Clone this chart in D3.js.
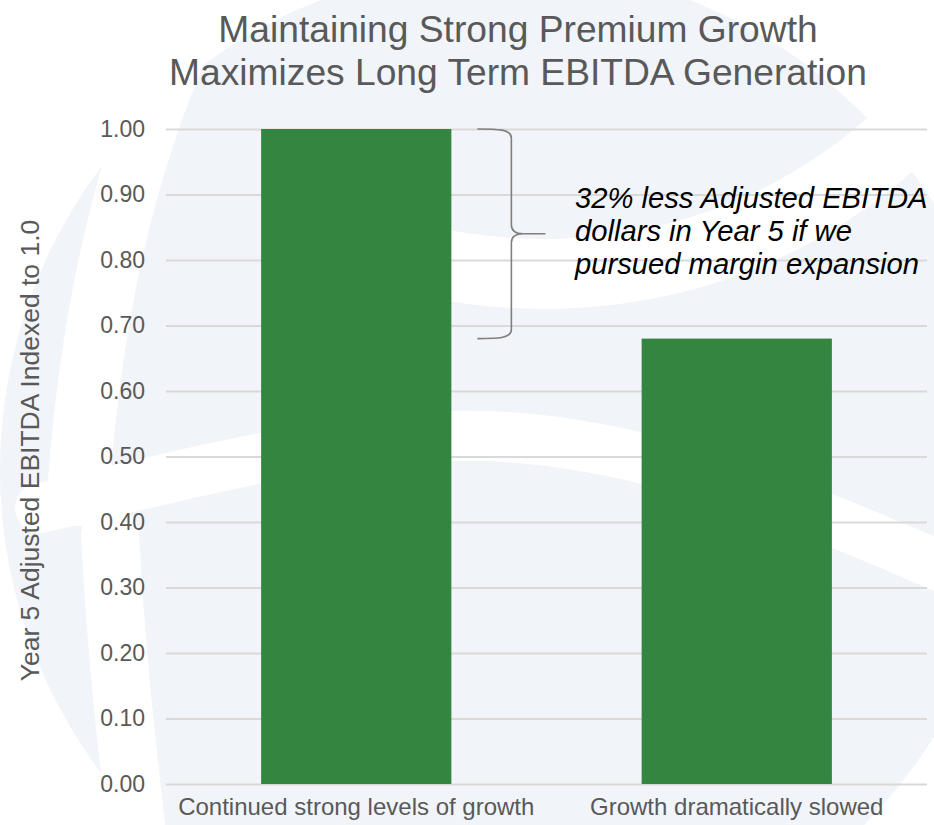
<!DOCTYPE html>
<html>
<head>
<meta charset="utf-8">
<script src="https://cdn.jsdelivr.net/npm/d3@7"></script>
<style>
  html, body { margin: 0; padding: 0; background: #ffffff; }
  svg { display: block; font-family: Arial, "Liberation Sans", Helvetica, sans-serif; }
</style>
</head>
<body>
<svg id="chart" width="934" height="825"></svg>
<script>
// ---- data ----
const categories = ["Continued strong levels of growth", "Growth dramatically slowed"];
const values = [1.00, 0.68];
const yTicks = [0, 0.1, 0.2, 0.3, 0.4, 0.5, 0.6, 0.7, 0.8, 0.9, 1.0];
const titleLines = ["Maintaining Strong Premium Growth", "Maximizes Long Term EBITDA Generation"];
const yAxisTitle = "Year 5 Adjusted EBITDA Indexed to 1.0";
const annotationLines = ["32% less Adjusted EBITDA", "dollars in Year 5 if we", "pursued margin expansion"];

// ---- layout ----
const W = 934, H = 825;
const plot = { left: 166, right: 927, top: 129, bottom: 784 };
const textGrey = "#595959";
const barGreen = "#348540";
const fontStack = "Arial, 'Liberation Sans', Helvetica, sans-serif";

const svg = d3.select("#chart");

// faint logo watermark behind the chart
const wm = svg.append("g").attr("class", "watermark");
wm.append("rect").attr("width", W).attr("height", H).attr("fill", "#ffffff");
wm.append("circle").attr("cx", 505).attr("cy", 470).attr("r", 505).attr("fill", "#f1f4f9");
const swoosh = (d, w) => wm.append("path").attr("d", d).attr("fill", "none")
  .attr("stroke", "#ffffff").attr("stroke-width", w).attr("stroke-linecap", "round");
swoosh("M 215 -30 C 150 90 95 250 78 495", 62);
swoosh("M 40 508 C 200 472 360 425 520 438 C 660 450 790 500 960 575", 50);
swoosh("M 110 535 C 116 650 126 740 140 860", 58);
swoosh("M 430 262 C 610 300 820 250 960 70", 70);

// ---- scales ----
const x = d3.scaleBand().domain(categories).range([plot.left, plot.right])
  .paddingInner(0.5).paddingOuter(0.25);
const y = d3.scaleLinear().domain([0, 1]).range([plot.bottom, plot.top]);

// ---- gridlines + y tick labels ----
const yAxis = d3.axisLeft(y)
  .tickValues(yTicks)
  .tickFormat(d3.format(".2f"))
  .tickSize(-(plot.right - plot.left))
  .tickPadding(21);

const gy = svg.append("g")
  .attr("transform", `translate(${plot.left},0)`)
  .attr("font-family", fontStack)
  .call(yAxis);
gy.attr("font-family", fontStack).attr("font-size", 23);
gy.select(".domain").remove();
gy.selectAll(".tick line").attr("stroke", "#d9d9d9").attr("stroke-width", 2);
gy.selectAll(".tick text").attr("fill", textGrey);

// ---- bars ----
svg.append("g").selectAll("rect")
  .data(categories)
  .join("rect")
  .attr("x", d => x(d))
  .attr("width", x.bandwidth())
  .attr("y", (d, i) => y(values[i]))
  .attr("height", (d, i) => y(0) - y(values[i]))
  .attr("fill", barGreen);

// ---- category labels ----
svg.append("g").selectAll("text")
  .data(categories)
  .join("text")
  .attr("x", d => x(d) + x.bandwidth() / 2)
  .attr("y", 815)
  .attr("text-anchor", "middle")
  .attr("fill", textGrey)
  .attr("font-size", "24px")
  .text(d => d);

// ---- y axis title ----
svg.append("text")
  .attr("transform", `translate(39,${(plot.top + plot.bottom) / 2 - 6}) rotate(-90)`)
  .attr("text-anchor", "middle")
  .attr("fill", textGrey)
  .attr("font-size", "26.5px")
  .text(yAxisTitle);

// ---- title ----
svg.append("g").selectAll("text")
  .data(titleLines)
  .join("text")
  .attr("x", 518)
  .attr("y", (d, i) => 42 + i * 43.3)
  .attr("text-anchor", "middle")
  .attr("fill", textGrey)
  .attr("font-size", "37.2px")
  .text(d => d);

// ---- brace spanning the gap between the two bars ----
const topY = y(values[0]);
const botY = y(values[1]);
const midY = (topY + botY) / 2;
const bx0 = x(categories[0]) + x.bandwidth() + 26; // arm start
const bx1 = bx0 + 34;                               // vertical spine
const bTip = bx1 + 34;                              // point
const r = 9;
const brace = d3.path();
brace.moveTo(bx0, topY);
brace.bezierCurveTo(bx0 + 20, topY, bx1, topY, bx1, topY + r);
brace.lineTo(bx1, midY - r);
brace.bezierCurveTo(bx1, midY - 2, bx1 + 6, midY, bx1 + 12, midY);
brace.lineTo(bTip, midY);
brace.moveTo(bx1 + 12, midY);
brace.bezierCurveTo(bx1 + 6, midY, bx1, midY + 2, bx1, midY + r);
brace.lineTo(bx1, botY - r);
brace.bezierCurveTo(bx1, botY, bx0 + 20, botY, bx0, botY);
svg.append("path")
  .attr("d", brace.toString())
  .attr("fill", "none")
  .attr("stroke", "#7f7f7f")
  .attr("stroke-width", 1.6);

// ---- annotation ----
svg.append("g").selectAll("text")
  .data(annotationLines)
  .join("text")
  .attr("x", 575)
  .attr("y", (d, i) => 208 + i * 33)
  .attr("fill", "#000000")
  .attr("font-size", "29.2px")
  .attr("font-style", "italic")
  .text(d => d);
</script>
</body>
</html>
